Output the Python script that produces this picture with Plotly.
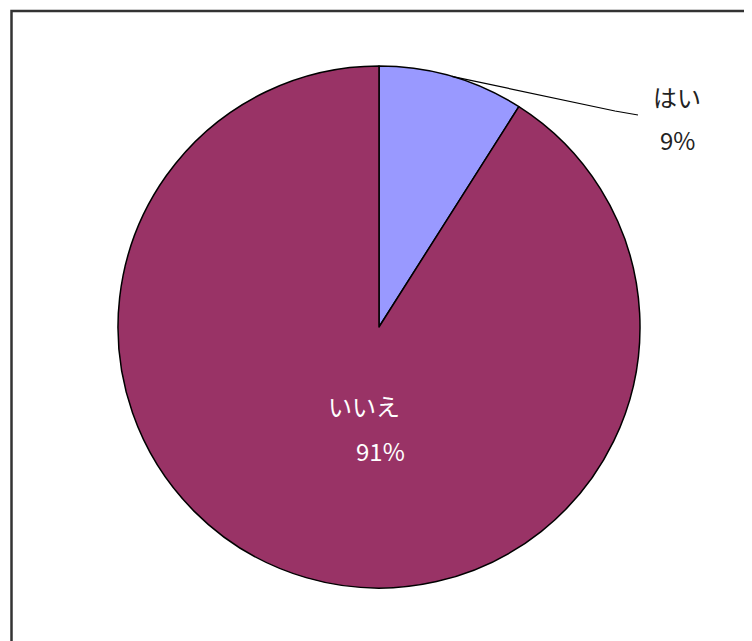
import math
import plotly.graph_objects as go

labels = ["はい", "いいえ"]
values = [9, 91]
colors = ["#9999FF", "#993366"]

OFF = 8  # page body margin shifts the figure by this many pixels
W, H = 752 - OFF, 641 - OFF
cx, cy, r = 379, 327, 261  # pie centre and radius in picture pixels


def px(x):
    return (x - OFF) / W


def py(y):
    return 1 - (y - OFF) / H


fig = go.Figure(
    go.Pie(
        labels=labels,
        values=values,
        sort=False,
        direction="clockwise",
        rotation=0,
        marker=dict(colors=colors, line=dict(color="black", width=1.5)),
        textinfo="none",
        hoverinfo="label+percent",
        showlegend=False,
        domain=dict(x=[px(cx - r), px(cx + r)], y=[py(cy + r), py(cy - r)]),
    )
)

# leader line for the small slice, from the middle of its arc
total = sum(values)
mid = math.radians(360 * values[0] / total / 2)
x0 = cx + r * math.sin(mid)
y0 = cy - r * math.cos(mid)
fig.add_shape(
    type="path",
    xref="paper", yref="paper",
    path=f"M {px(x0)} {py(y0)} L {px(615)} {py(111)} L {px(638)} {py(115)}",
    line=dict(color="black", width=1.2),
)

# frame around the chart area
fig.add_shape(
    type="rect", xref="paper", yref="paper",
    x0=px(11.5), x1=px(800), y0=py(700), y1=py(11),
    line=dict(color="#333333", width=2.5),
)

font_out = dict(family="Noto Sans CJK JP", size=24, color="#222222")
font_in = dict(family="Noto Sans CJK JP", size=24, color="white")
pcts = [f"{round(100 * v / total)}%" for v in values]

texts = [
    (677, 96, labels[0], font_out),
    (677, 140, pcts[0], font_out),
    (364, 405, labels[1], font_in),
    (380, 450, pcts[1], font_in),
]
for x, y, t, f in texts:
    fig.add_annotation(x=px(x), y=py(y), text=t, showarrow=False, font=f,
                       xref="paper", yref="paper",
                       xanchor="center", yanchor="middle")

fig.update_layout(
    width=W, height=H,
    margin=dict(l=0, r=0, t=0, b=0),
    paper_bgcolor="white",
    plot_bgcolor="white",
)

fig.write_html("out.html")
